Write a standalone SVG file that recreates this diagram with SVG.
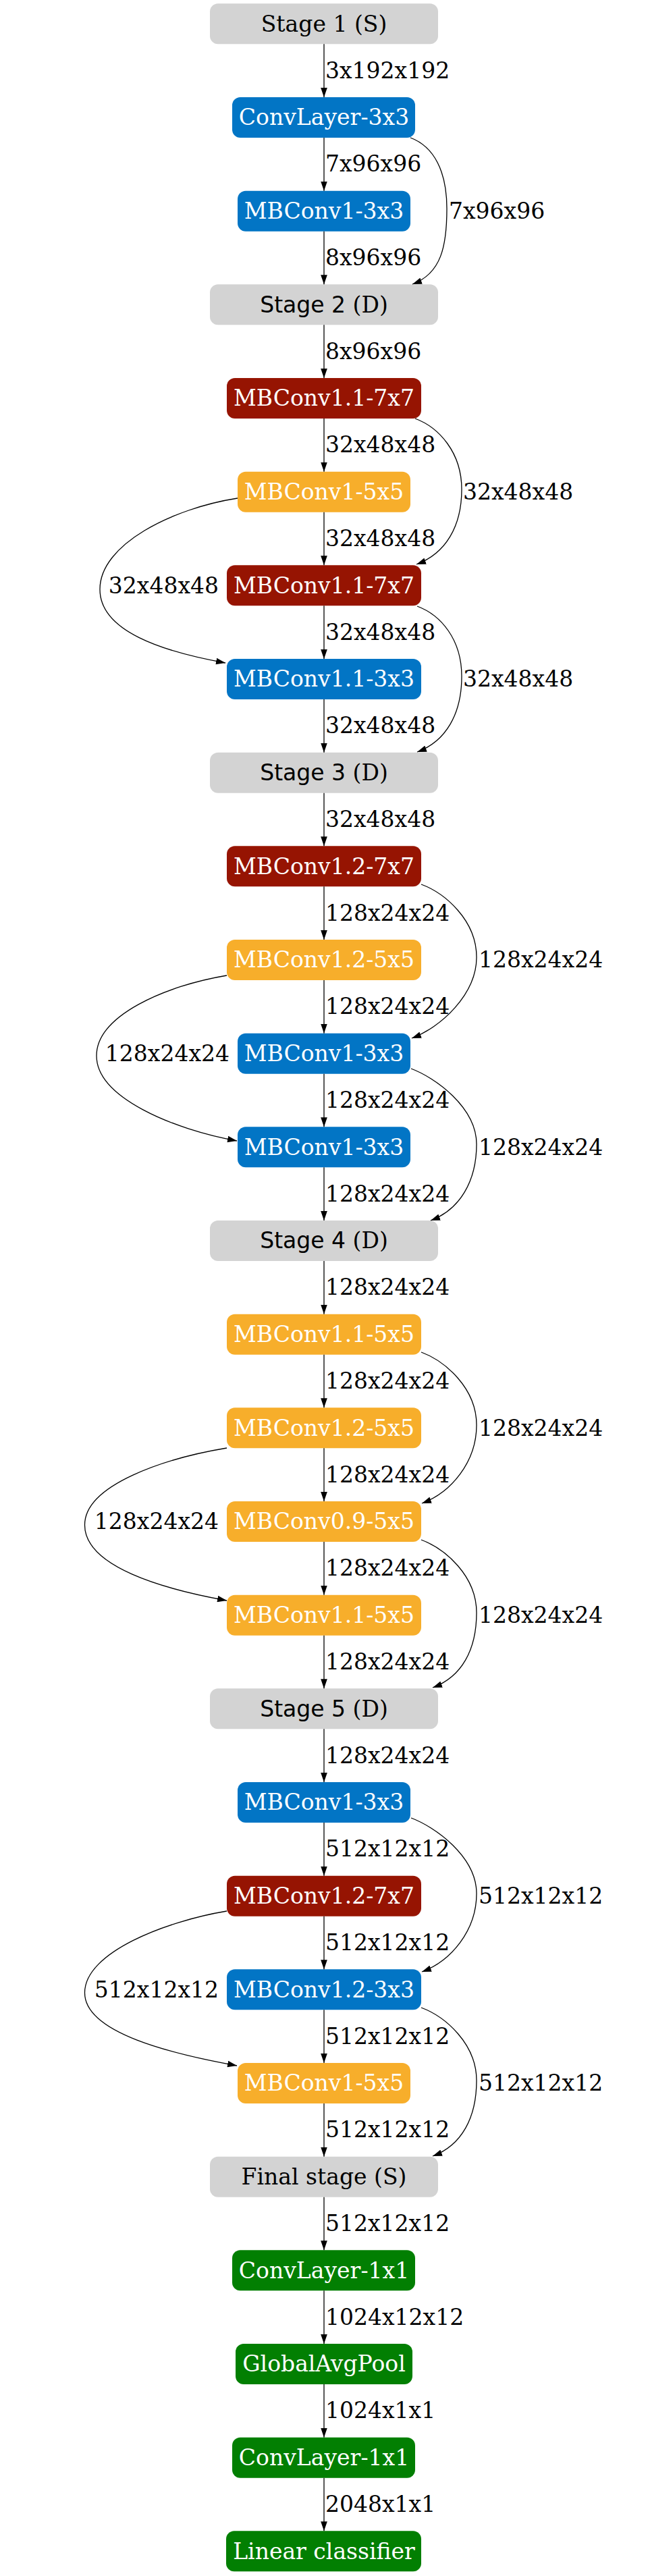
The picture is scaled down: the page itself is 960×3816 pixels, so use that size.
<svg xmlns="http://www.w3.org/2000/svg" width="960" height="3816" viewBox="0 0 960 3816">
<style>
.n text{font-family:"DejaVu Serif",serif;font-size:33px;fill:#fff;text-anchor:middle}
.n text.k{fill:#000}
.sans{font-family:"DejaVu Sans",sans-serif}
.g rect{fill:#d3d3d3}
.b rect{fill:#0275c5}
.r rect{fill:#961402}
.o rect{fill:#f7ae2b}
.gr rect{fill:#027f02}
#edges path{fill:none;stroke:#000;stroke-width:1.3;marker-end:url(#ah)}
#edges text{font-family:"DejaVu Serif",serif;font-size:33px;fill:#000}
#edges text.e{text-anchor:end}
</style>
<defs>
<marker id="ah" markerUnits="userSpaceOnUse" markerWidth="14" markerHeight="10" viewBox="0 0 13 9" refX="13" refY="4.5" orient="auto">
<path d="M0,0 L13,4.5 L0,9 z" fill="#000"/>
</marker>
</defs>
<rect width="960" height="3816" fill="#fff"/>
<g id="nodes">
<g id="n0" class="n g"><rect x="311" y="5.3" width="338" height="60" rx="12"/><text class="k sans" x="480" y="46.5">Stage 1 (S)</text></g>
<g id="n1" class="n b"><rect x="344" y="144" width="271" height="60" rx="12"/><text x="480" y="185.2">ConvLayer-3x3</text></g>
<g id="n2" class="n b"><rect x="352" y="282.7" width="256" height="60" rx="12"/><text x="480" y="323.9">MBConv1-3x3</text></g>
<g id="n3" class="n g"><rect x="311" y="421.3" width="338" height="60" rx="12"/><text class="k" x="480" y="462.5"><tspan class="sans">Stage 2 </tspan>(D)</text></g>
<g id="n4" class="n r"><rect x="336" y="560" width="288" height="60" rx="12"/><text x="480" y="601.2">MBConv1.1-7x7</text></g>
<g id="n5" class="n o"><rect x="352" y="698.7" width="256" height="60" rx="12"/><text x="480" y="739.9">MBConv1-5x5</text></g>
<g id="n6" class="n r"><rect x="336" y="837.3" width="288" height="60" rx="12"/><text x="480" y="878.5">MBConv1.1-7x7</text></g>
<g id="n7" class="n b"><rect x="336" y="976" width="288" height="60" rx="12"/><text x="480" y="1017.2">MBConv1.1-3x3</text></g>
<g id="n8" class="n g"><rect x="311" y="1114.7" width="338" height="60" rx="12"/><text class="k" x="480" y="1155.9"><tspan class="sans">Stage 3 </tspan>(D)</text></g>
<g id="n9" class="n r"><rect x="336" y="1253.3" width="288" height="60" rx="12"/><text x="480" y="1294.5">MBConv1.2-7x7</text></g>
<g id="n10" class="n o"><rect x="336" y="1392" width="288" height="60" rx="12"/><text x="480" y="1433.2">MBConv1.2-5x5</text></g>
<g id="n11" class="n b"><rect x="352" y="1530.7" width="256" height="60" rx="12"/><text x="480" y="1571.9">MBConv1-3x3</text></g>
<g id="n12" class="n b"><rect x="352" y="1669.3" width="256" height="60" rx="12"/><text x="480" y="1710.5">MBConv1-3x3</text></g>
<g id="n13" class="n g"><rect x="311" y="1808" width="338" height="60" rx="12"/><text class="k" x="480" y="1849.2"><tspan class="sans">Stage 4 </tspan>(D)</text></g>
<g id="n14" class="n o"><rect x="336" y="1946.7" width="288" height="60" rx="12"/><text x="480" y="1987.9">MBConv1.1-5x5</text></g>
<g id="n15" class="n o"><rect x="336" y="2085.3" width="288" height="60" rx="12"/><text x="480" y="2126.5">MBConv1.2-5x5</text></g>
<g id="n16" class="n o"><rect x="336" y="2224" width="288" height="60" rx="12"/><text x="480" y="2265.2">MBConv0.9-5x5</text></g>
<g id="n17" class="n o"><rect x="336" y="2362.7" width="288" height="60" rx="12"/><text x="480" y="2403.9">MBConv1.1-5x5</text></g>
<g id="n18" class="n g"><rect x="311" y="2501.3" width="338" height="60" rx="12"/><text class="k" x="480" y="2542.5"><tspan class="sans">Stage 5 </tspan>(D)</text></g>
<g id="n19" class="n b"><rect x="352" y="2640" width="256" height="60" rx="12"/><text x="480" y="2681.2">MBConv1-3x3</text></g>
<g id="n20" class="n r"><rect x="336" y="2778.7" width="288" height="60" rx="12"/><text x="480" y="2819.9">MBConv1.2-7x7</text></g>
<g id="n21" class="n b"><rect x="336" y="2917.3" width="288" height="60" rx="12"/><text x="480" y="2958.5">MBConv1.2-3x3</text></g>
<g id="n22" class="n o"><rect x="352" y="3056" width="256" height="60" rx="12"/><text x="480" y="3097.2">MBConv1-5x5</text></g>
<g id="n23" class="n g"><rect x="311" y="3194.7" width="338" height="60" rx="12"/><text class="k" x="480" y="3235.9">Final stage (S)</text></g>
<g id="n24" class="n gr"><rect x="344" y="3333.3" width="271" height="60" rx="12"/><text x="480" y="3374.5">ConvLayer-1x1</text></g>
<g id="n25" class="n gr"><rect x="349" y="3472" width="262" height="60" rx="12"/><text x="480" y="3513.2">GlobalAvgPool</text></g>
<g id="n26" class="n gr"><rect x="344" y="3610.7" width="271" height="60" rx="12"/><text x="480" y="3651.9">ConvLayer-1x1</text></g>
<g id="n27" class="n gr"><rect x="335" y="3749.3" width="289" height="60" rx="12"/><text x="480" y="3790.5">Linear classifier</text></g>
</g>
<g id="edges">
<path d="M480,65.3 V144"/><text x="482" y="115.6">3x192x192</text>
<path d="M480,204 V282.7"/><text x="482" y="254.3">7x96x96</text>
<path d="M480,342.7 V421.3"/><text x="482" y="393">8x96x96</text>
<path d="M480,481.3 V560"/><text x="482" y="531.6">8x96x96</text>
<path d="M480,620 V698.7"/><text x="482" y="670.3">32x48x48</text>
<path d="M480,758.7 V837.3"/><text x="482" y="809">32x48x48</text>
<path d="M480,897.3 V976"/><text x="482" y="947.6">32x48x48</text>
<path d="M480,1036 V1114.7"/><text x="482" y="1086.3">32x48x48</text>
<path d="M480,1174.7 V1253.3"/><text x="482" y="1225">32x48x48</text>
<path d="M480,1313.3 V1392"/><text x="482" y="1363.6">128x24x24</text>
<path d="M480,1452 V1530.7"/><text x="482" y="1502.3">128x24x24</text>
<path d="M480,1590.7 V1669.3"/><text x="482" y="1641">128x24x24</text>
<path d="M480,1729.3 V1808"/><text x="482" y="1779.6">128x24x24</text>
<path d="M480,1868 V1946.7"/><text x="482" y="1918.3">128x24x24</text>
<path d="M480,2006.7 V2085.3"/><text x="482" y="2057">128x24x24</text>
<path d="M480,2145.3 V2224"/><text x="482" y="2195.6">128x24x24</text>
<path d="M480,2284 V2362.7"/><text x="482" y="2334.3">128x24x24</text>
<path d="M480,2422.7 V2501.3"/><text x="482" y="2473">128x24x24</text>
<path d="M480,2561.3 V2640"/><text x="482" y="2611.6">128x24x24</text>
<path d="M480,2700 V2778.7"/><text x="482" y="2750.3">512x12x12</text>
<path d="M480,2838.7 V2917.3"/><text x="482" y="2889">512x12x12</text>
<path d="M480,2977.3 V3056"/><text x="482" y="3027.6">512x12x12</text>
<path d="M480,3116 V3194.7"/><text x="482" y="3166.3">512x12x12</text>
<path d="M480,3254.7 V3333.3"/><text x="482" y="3305">512x12x12</text>
<path d="M480,3393.3 V3472"/><text x="482" y="3443.6">1024x12x12</text>
<path d="M480,3532 V3610.7"/><text x="482" y="3582.3">1024x1x1</text>
<path d="M480,3670.7 V3749.3"/><text x="482" y="3721">2048x1x1</text>
<path d="M608,204 C643,217 662,254 662,309 C662,364 654,405 611,421"/><text x="665" y="323.9">7x96x96</text>
<path d="M615,620 C650,633 684,670 684,725 C684,780 660,820 617,836"/><text x="686" y="739.9">32x48x48</text>
<path d="M618,898 C653,911 684,947 684,1002 C684,1057 661,1098 618,1114"/><text x="686" y="1017.2">32x48x48</text>
<path d="M624,1310 C659,1323 706,1363 706,1418 C706,1473 653,1522 610,1538"/><text x="709" y="1433.2">128x24x24</text>
<path d="M609,1583 C644,1596 706,1640 706,1695 C706,1750 681,1792 638,1808"/><text x="709" y="1710.5">128x24x24</text>
<path d="M624,2003 C659,2016 706,2056 706,2111 C706,2166 668,2211 625,2227"/><text x="709" y="2126.5">128x24x24</text>
<path d="M624,2281 C659,2294 706,2334 706,2389 C706,2444 684,2484 641,2500"/><text x="709" y="2403.9">128x24x24</text>
<path d="M609,2693 C644,2706 706,2750 706,2805 C706,2860 668,2905 625,2921"/><text x="709" y="2819.9">512x12x12</text>
<path d="M624,2974 C659,2987 706,3027 706,3082 C706,3137 684,3178 641,3194"/><text x="709" y="3097.2">512x12x12</text>
<path d="M352,738 C256,753 148,806 148,873 C148,935 240,965 334,982"/><text class="e" x="324" y="878.5">32x48x48</text>
<path d="M336,1445 C246,1460 143,1504 143,1564 C143,1626 257,1673 351,1690"/><text class="e" x="340" y="1571.9">128x24x24</text>
<path d="M336,2145 C246,2160 125.5,2199 125.5,2259 C125.5,2321 242,2354 336,2371"/><text class="e" x="324" y="2265.2">128x24x24</text>
<path d="M336,2831 C246,2846 125.5,2892 125.5,2952 C125.5,3012 257,3043 351,3060"/><text class="e" x="324" y="2958.5">512x12x12</text>
</g>
</svg>
